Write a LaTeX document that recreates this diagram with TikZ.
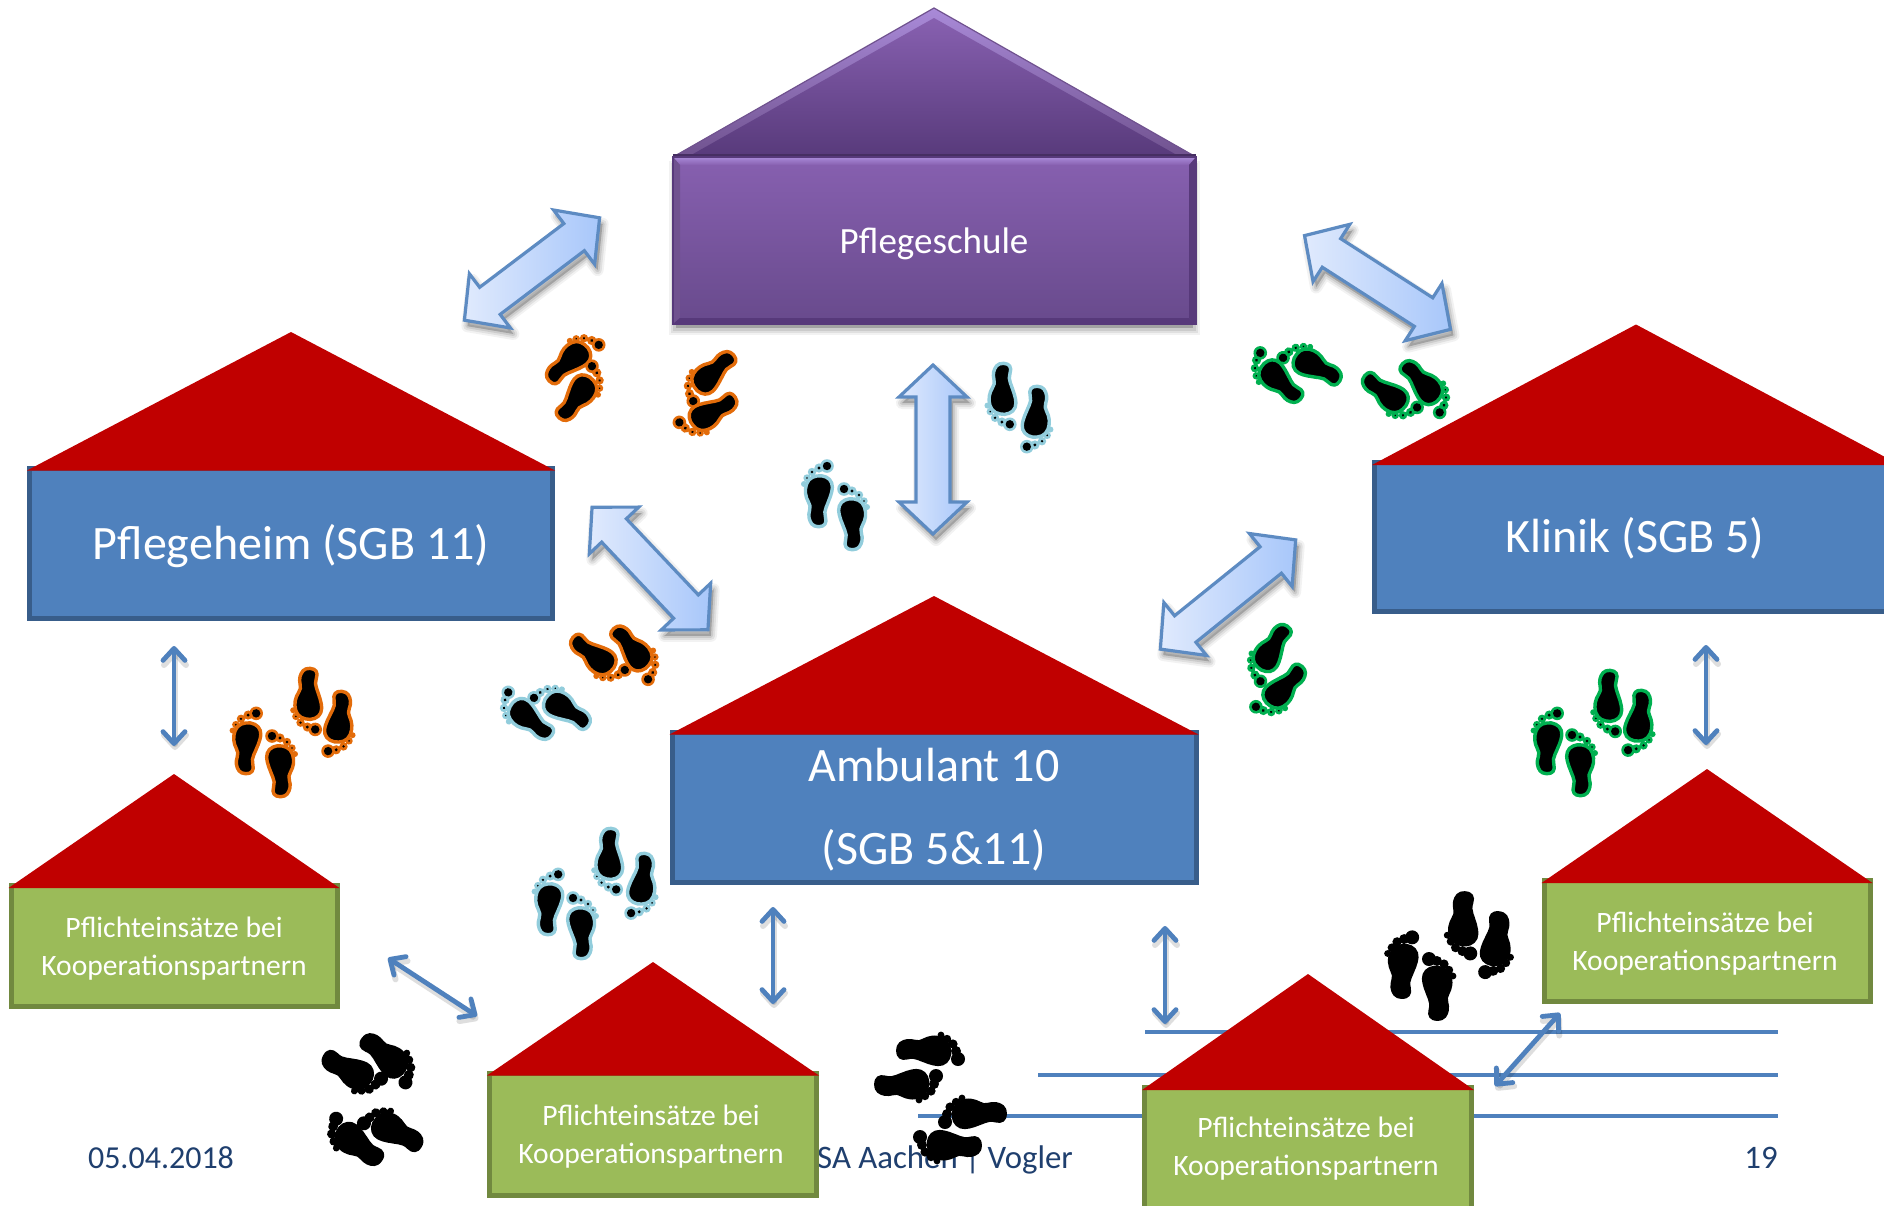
\documentclass[tikz,border=0pt]{standalone}
\usepackage{fontspec}
\setmainfont{Carlito}
\usetikzlibrary{calc,arrows.meta}
\definecolor{wallblue}{HTML}{4F81BD}
\definecolor{wallblueD}{HTML}{385D8A}
\definecolor{wallgreen}{HTML}{9BBB59}
\definecolor{wallgreenD}{HTML}{71893F}
\definecolor{roofred}{HTML}{C00000}
\definecolor{footorange}{HTML}{E36C0A}
\definecolor{footblue}{HTML}{92CDDC}
\definecolor{footgreen}{HTML}{00B050}
\definecolor{footerblue}{HTML}{1F3F6E}
\definecolor{HTMLpa}{HTML}{8760B0}
\definecolor{HTMLpb}{HTML}{684A8C}
\definecolor{HTMLpc}{HTML}{70528F}
\definecolor{HTMLpd}{HTML}{57397A}
\definecolor{HTMLpe}{HTML}{A98AD8}
\definecolor{blockL}{HTML}{E0EAFD}
\definecolor{blockD}{HTML}{A8C7FA}
\tikzset{
  bigwall/.style={rectangle,draw=wallblueD,fill=wallblue,line width=2.5pt,outer sep=0pt},
  smallwall/.style={rectangle,draw=wallgreenD,fill=wallgreen,line width=2.5pt,outer sep=0pt},
  biglabel/.style={text=white,align=center,font=\fontsize{24}{41.5}\selectfont},
  smalllabel/.style={text=white,align=center,font=\fontsize{14.8}{19}\selectfont},
  thinarrow/.style={draw=wallblue,line width=2.4pt,line cap=round,{Straight Barb[length=6pt,width=11pt,round]}-{Straight Barb[length=6pt,width=11pt,round]}},
  thinshadow/.style={draw=black,opacity=.13,line width=3pt,line cap=round,{Straight Barb[length=6pt,width=11pt,round]}-{Straight Barb[length=6pt,width=11pt,round]}},
  footerlabel/.style={text=footerblue,font=\fontsize{16.4}{19}\selectfont},
  guideline/.style={draw=wallblue,line width=1.7pt}
}
% house: name, cx, cy, w, h, roof height, wall style
\newcommand{\house}[7]{%
  \node[#7,minimum width=#4*0.5pt-2.5pt,minimum height=#5*0.5pt-2.5pt] (#1) at (#2,#3) {};
  \coordinate (#1-apex) at ($(#1.north)+(0,-#6)$);
  \fill[roofred] ($(#1.north west)+(-2.5,2.5)$) -- (#1-apex) -- ($(#1.north east)+(2.5,2.5)$) -- cycle;
}
% foot: x, y, rotation, side, colour
\newcommand{\foot}[5]{%
  \begin{scope}[shift={(#1,#2)},rotate=#3,xscale=#4]
    \fill[#5] (9,-34) circle (6.8) (1,-32) circle (4.6) (-6,-28) circle (4.2) (-11,-22) circle (3.7) (-14,-16) circle (3);
    \fill[black] (9,-34) circle (4.2) (1,-32) circle (1.6) (-6,-28) circle (1.3) (-11,-22) circle (.9);
    \begin{scope}[xscale=1.14]
    \draw[draw=#5,fill=black,line width=1.7pt,line join=round]
      plot[smooth cycle,tension=.7] coordinates {(-7,21) (-3,26) (4,26) (7,21) (6,12) (9,2) (12,-8) (12,-17) (7,-23) (-1,-24) (-8,-20) (-11,-11) (-10,-2) (-7,6) (-8,14)};
    \end{scope}
  \end{scope}}
\newcommand{\footblack}[4]{%
  \begin{scope}[shift={(#1,#2)},rotate=#3,xscale=#4]
    \fill[black,line join=round,xscale=1.1]
      plot[smooth cycle,tension=.7] coordinates {(-9,22) (-4,28) (5,28) (9,22) (8,12) (11,2) (14,-8) (14,-18) (8,-25) (-1,-26) (-9,-22) (-13,-12) (-12,-2) (-9,6) (-10,14)};
    \fill[black] (9,-33) circle (7) (1,-31) circle (5) (-6,-28) circle (4.6) (-11,-22) circle (4.2) (-15,-16) circle (3.4);
  \end{scope}}
% block double arrow: light end x,y ; dark end x,y
\newcommand{\blockarrow}[4]{%
  \pgfmathsetmacro{\bal}{veclen((#3)-(#1),(#4)-(#2))}%
  \pgfmathsetmacro{\baa}{atan2(-((#4)-(#2)),(#3)-(#1))}%
  \def\bashape{(3,0) -- (35,-34) -- (35,-17) -- (\bal-35,-17) -- (\bal-35,-34) -- (\bal-3,0) -- (\bal-35,34) -- (\bal-35,17) -- (35,17) -- (35,34) -- cycle}%
  \foreach \w/\o in {6pt/.05,4pt/.07,2pt/.09}{%
    \begin{scope}[shift={(#1+3,#2+6)},rotate=\baa]
      \filldraw[black,opacity=\o,line width=\w,line join=round] \bashape;
    \end{scope}}%
  \begin{scope}[shift={(#1,#2)},rotate=\baa]
    \draw[draw=wallblue!92!white,line width=1.6pt,line join=miter,left color=blockL,right color=blockD] \bashape;
  \end{scope}}
\begin{document}
\begin{tikzpicture}[x=0.5pt,y=-0.5pt]
\useasboundingbox (0,0) rectangle (1884,1205);
\clip (0,0) rectangle (1884,1205);
\fill[white] (0,0) rectangle (1884,1205);

% slide lines and footer
\coordinate (la1) at (1145,1032); \coordinate (la2) at (1778,1032);
\coordinate (lb1) at (1038,1075); \coordinate (lb2) at (1778,1075);
\coordinate (lc1) at (918,1116);  \coordinate (lc2) at (1778,1116);
\draw[guideline] (la1) -- (la2);
\draw[guideline] (lb1) -- (lb2);
\draw[guideline] (lc1) -- (lc2);
\node[footerlabel,font=\fontsize{16}{19}\selectfont] (fdate) at (161,1158) {05.04.2018};
\node[footerlabel,anchor=east] (fname) at (1080,1159) {ASA Aachen | Vogler};
\node[footerlabel] (fpage) at (1761,1158) {19};

% purple school
\foreach \w/\o in {7pt/.05,5pt/.07,3pt/.09}{
  \filldraw[black,opacity=\o,line width=\w] (676,168) rectangle (1193,328);
}
\shade[top color=HTMLpa,bottom color=HTMLpb] (673,157) rectangle (1196,324);
\shade[top color=HTMLpe,bottom color=HTMLpa] (673,157) -- (1196,157) -- (1189,165) -- (680,165) -- cycle;
\fill[HTMLpc] (673,157) -- (680,165) -- (680,318) -- (673,324) -- cycle;
\fill[HTMLpd] (1196,157) -- (1189,165) -- (1189,318) -- (1196,324) -- cycle;
\fill[HTMLpd] (673,324) -- (680,318) -- (1189,318) -- (1196,324) -- cycle;
\shade[top color=HTMLpe,bottom color=HTMLpc] (934,8) -- (1196,157) -- (673,157) -- cycle;
\shade[top color=HTMLpa,bottom color=HTMLpd!90!HTMLpb] (934,18) -- (1175,154) -- (693,154) -- cycle;
\draw[HTMLpc,line width=.6pt] (673,157) -- (934,8) -- (1196,157);
\draw[HTMLpd!80!black,line width=1.6pt] (673,156) -- (1196,156);
\draw[HTMLpd,line width=.6pt] (673,157) rectangle (1196,324);
\node[text=white,font=\fontsize{18.5}{22}\selectfont] (pflegeschule) at (934,244) {Pflegeschule};

% houses
\house{pflegeheim}{291}{543}{528}{155}{136}{bigwall}
\house{klinik}{1636}{537}{528}{154}{138}{bigwall}
\house{ambulant}{934}{807}{529}{155}{136}{bigwall}
\house{pflichtL}{174}{946}{331}{126}{111.5}{smallwall}
\house{pflichtM}{653}{1134}{332}{127}{111}{smallwall}
\house{pflichtU}{1308}{1148}{332}{126}{113.5}{smallwall}
\house{pflichtR}{1707}{941}{331}{126}{111.5}{smallwall}
\node[biglabel] (tpflegeheim) at (291,546) {Pflegeheim (SGB 11)};
\node[biglabel] (tklinik) at (1635,538) {Klinik (SGB 5)};
\node[biglabel] (tambulant) at (934,810) {Ambulant 10\\(SGB 5\&11)};
\node[smalllabel] (tL) at (174,949) {Pflichteinsätze bei\\Kooperationspartnern};
\node[smalllabel] (tM) at (651,1137) {Pflichteinsätze bei\\Kooperationspartnern};
\node[smalllabel] (tU) at (1306,1149) {Pflichteinsätze bei\\Kooperationspartnern};
\node[smalllabel] (tR) at (1705,943.5) {Pflichteinsätze bei\\Kooperationspartnern};

% block arrows
\blockarrow{602}{216}{462}{322}
\blockarrow{1302}{234}{1453}{331}
\blockarrow{933}{362}{933}{537}
\blockarrow{590}{505}{710}{632}
\blockarrow{1298}{538}{1158}{651}

% thin double arrows
\coordinate (ta1) at (174,646);   \coordinate (ta2) at (174,746);
\coordinate (tb1) at (388,958);   \coordinate (tb2) at (477,1016);
\coordinate (tc1) at (773,907);   \coordinate (tc2) at (773,1004);
\coordinate (td1) at (1165,926);  \coordinate (td2) at (1165,1024);
\coordinate (te1) at (1706,645);  \coordinate (te2) at (1706,745);
\coordinate (tf1) at (1560,1013); \coordinate (tf2) at (1495,1086);
\foreach \p/\q in {ta1/ta2,tb1/tb2,tc1/tc2,td1/td2,te1/te2,tf1/tf2}{
  \draw[thinshadow] ($(\p)+(1,4)$) -- ($(\q)+(1,4)$);
  \draw[thinarrow] (\p) -- (\q);
}

% footprints, orange
\foot{568}{362}{-46}{1}{footorange}
\foot{577}{398}{-40}{-1}{footorange}
\foot{713}{372}{131}{-1}{footorange}
\foot{713}{412}{122}{1}{footorange}
\foot{593}{655}{-130}{-1}{footorange}
\foot{632}{648}{-138}{1}{footorange}
\foot{246}{747}{-2}{1}{footorange}
\foot{281}{770}{0}{-1}{footorange}
\foot{308}{695}{177}{-1}{footorange}
\foot{340}{718}{175}{1}{footorange}
% light blue
\foot{818}{500}{0}{1}{footblue}
\foot{853}{523}{0}{-1}{footblue}
\foot{1002}{390}{178}{-1}{footblue}
\foot{1037}{413}{178}{1}{footblue}
\foot{530}{720}{53}{1}{footblue}
\foot{567}{710}{55}{-1}{footblue}
\foot{548}{908}{-2}{1}{footblue}
\foot{582}{932}{0}{-1}{footblue}
\foot{609}{855}{177}{-1}{footblue}
\foot{643}{880}{175}{1}{footblue}
% green
\foot{1280}{382}{49}{1}{footgreen}
\foot{1317}{367}{60}{-1}{footgreen}
\foot{1385}{393}{-129}{-1}{footgreen}
\foot{1422}{382}{-135}{1}{footgreen}
\foot{1272}{648}{146}{-1}{footgreen}
\foot{1285}{687}{139}{1}{footgreen}
\foot{1547}{747}{-2}{1}{footgreen}
\foot{1581}{769}{0}{-1}{footgreen}
\foot{1608}{697}{177}{-1}{footgreen}
\foot{1640}{717}{175}{1}{footgreen}
% black
\footblack{385}{1055}{-128}{1}
\footblack{348}{1070}{-120}{-1}
\footblack{358}{1145}{55}{1}
\footblack{397}{1132}{60}{-1}
\footblack{925}{1050}{-90}{1}
\footblack{903}{1085}{-90}{-1}
\footblack{978}{1113}{90}{-1}
\footblack{953}{1146}{90}{1}
\footblack{1402}{970}{-2}{1}
\footblack{1438}{992}{0}{-1}
\footblack{1463}{920}{177}{-1}
\footblack{1497}{940}{175}{1}
\end{tikzpicture}
\end{document}
